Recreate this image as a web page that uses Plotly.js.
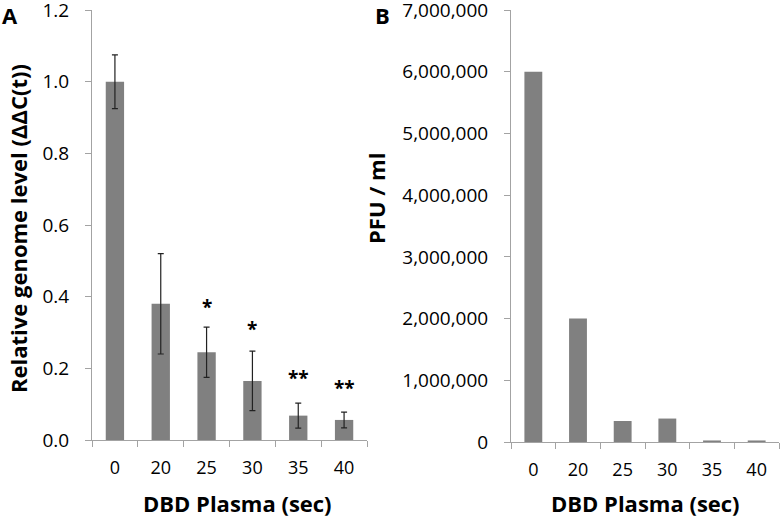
<!DOCTYPE html>
<html>
<head>
<meta charset="utf-8">
<script src="https://cdn.plot.ly/plotly-3.0.1.min.js"></script>
<style>html,body{margin:0;padding:0;background:#fff;}#chart{width:781px;height:518px;}</style>
</head>
<body>
<div id="chart"></div>
<script>
// Data
const categories = ["0", "20", "25", "30", "35", "40"];
const genomeLevel = [1.0, 0.38, 0.245, 0.165, 0.068, 0.056];
const genomeError = [0.075, 0.14, 0.07, 0.083, 0.035, 0.022];
const sigLabels = ["", "", "*", "*", "**", "**"];
const sigY = [null, null, 0.386, 0.324, 0.187, 0.16];
const pfu = [6000000, 2000000, 340000, 380000, 25000, 25000];
const yTicksA = [0, 0.2, 0.4, 0.6, 0.8, 1.0, 1.2];
const yTicksB = [0, 1000000, 2000000, 3000000, 4000000, 5000000, 6000000, 7000000];

const FONT = "'Open Sans', 'Noto Sans', sans-serif";
const AXC = "#a3a3a3";
const BARC = "#808080";

const traces = [
  {
    type: "bar", x: categories, y: genomeLevel, xaxis: "x", yaxis: "y",
    marker: {color: BARC},
    error_y: {type: "data", array: genomeError, visible: true, color: "#222222", thickness: 1.2, width: 3},
    hoverinfo: "skip"
  },
  {
    type: "bar", x: categories, y: pfu, xaxis: "x2", yaxis: "y2",
    marker: {color: BARC},
    hoverinfo: "skip"
  }
];

const annotations = [];
categories.forEach((c, i) => {
  if (sigLabels[i]) {
    annotations.push({
      xref: "x", yref: "y", x: i, y: sigY[i], text: "<b>" + sigLabels[i] + "</b>",
      showarrow: false, yanchor: "middle", yshift: -5,
      font: {family: FONT, size: 19, color: "#000"}
    });
  }
});
// Axis titles and panel letters
annotations.push(
  {xref: "paper", yref: "paper", x: 238/781, y: 1 - 503/518, text: "<b>DBD Plasma (sec)</b>",
   showarrow: false, xanchor: "center", yanchor: "middle", font: {family: FONT, size: 22, color: "#000"}},
  {xref: "paper", yref: "paper", x: 645.5/781, y: 1 - 503/518, text: "<b>DBD Plasma (sec)</b>",
   showarrow: false, xanchor: "center", yanchor: "middle", font: {family: FONT, size: 22, color: "#000"}},
  {xref: "paper", yref: "paper", x: 18/781, y: 1 - 229/518, text: "<b>Relative genome level (ΔΔC(t))</b>",
   textangle: -90, showarrow: false, xanchor: "center", yanchor: "middle", font: {family: FONT, size: 22, color: "#000"}},
  {xref: "paper", yref: "paper", x: 376/781, y: 1 - 199/518, text: "<b>PFU / ml</b>",
   textangle: -90, showarrow: false, xanchor: "center", yanchor: "middle", font: {family: FONT, size: 22, color: "#000"}},
  {xref: "paper", yref: "paper", x: 0, y: 1 - 15/518, text: "<b>A</b>",
   showarrow: false, xanchor: "left", yanchor: "middle", font: {family: FONT, size: 22, color: "#000"}},
  {xref: "paper", yref: "paper", x: 382/781, y: 1 - 15/518, text: "<b>B</b>",
   showarrow: false, xanchor: "center", yanchor: "middle", font: {family: FONT, size: 22, color: "#000"}}
);

const xCommon = {
  type: "category", tickson: "boundaries", ticks: "outside", ticklen: 6, tickcolor: AXC,
  showline: true, linecolor: AXC, linewidth: 1, showgrid: false, zeroline: false,
  tickfont: {family: FONT, size: 18, color: "#000"}, ticklabelstandoff: 11, tickangle: 0,
  range: [-0.5, 5.5], fixedrange: true
};
const yCommon = {
  ticks: "outside", ticklen: 6, tickcolor: AXC, showline: true, linecolor: AXC, linewidth: 1,
  showgrid: false, zeroline: false, tickfont: {family: FONT, size: 19, color: "#000"},
  ticklabelstandoff: 12, ticklabeloverflow: "allow", tickmode: "array", fixedrange: true
};

const layout = {
  width: 781, height: 518,
  margin: {l: 0, r: 0, t: 0, b: 0, autoexpand: false},
  paper_bgcolor: "#fff", plot_bgcolor: "#fff",
  showlegend: false, bargap: 0.6,
  font: {family: FONT, color: "#000"},
  xaxis: Object.assign({}, xCommon, {domain: [92/781, 367/781], anchor: "y"}),
  yaxis: Object.assign({}, yCommon, {domain: [1 - 440/518, 1 - 10/518], range: [0, 1.2], tickvals: yTicksA, ticktext: yTicksA.map(v => v.toFixed(1)), anchor: "x"}),
  xaxis2: Object.assign({}, xCommon, {domain: [511/781, 779/781], anchor: "y2"}),
  yaxis2: Object.assign({}, yCommon, {domain: [1 - 442/518, 1 - 10/518], range: [0, 7000000], tickvals: yTicksB, ticktext: yTicksB.map(v => v.toLocaleString("en-US")), anchor: "x2"}),
  annotations: annotations
};

Plotly.newPlot("chart", traces, layout, {staticPlot: true, displayModeBar: false});
</script>
</body>
</html>
